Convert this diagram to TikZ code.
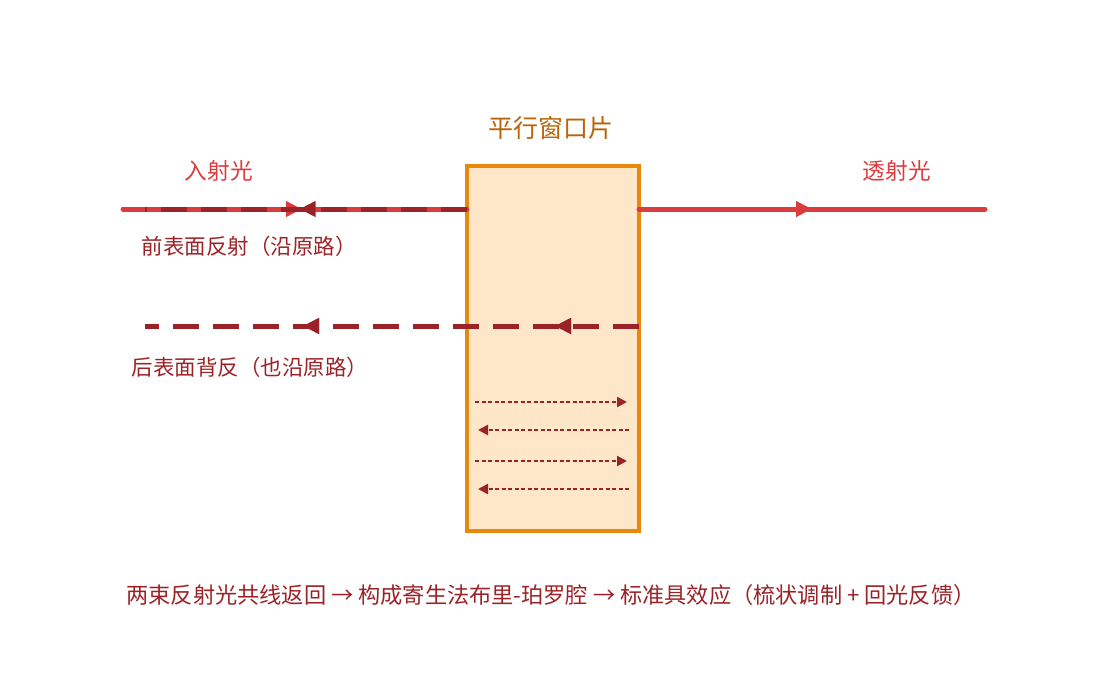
\documentclass[tikz,border=0pt]{standalone}
\usepackage{fontspec}
\newfontfamily\cjk{Noto Sans CJK SC}
\usetikzlibrary{arrows.meta,decorations.markings}
\definecolor{rl}{HTML}{DC3C3E}
\definecolor{dr}{HTML}{9B2226}
\definecolor{og}{HTML}{E8890C}
\definecolor{fl}{HTML}{FDE7C8}
\definecolor{tt}{HTML}{B8650A}
\tikzset{
  mid/.style={postaction=decorate,decoration={markings,mark=at position #1 with {\arrow{Triangle[length=16pt,width=15pt]}}}},
  lbl/.style={font=\cjk\fontsize{21.5}{24}\selectfont},
}
\begin{document}
\begin{tikzpicture}[x=1pt,y=-1pt]
\useasboundingbox (0,0) rectangle (1105,675);
\node[draw=og,line width=3.5pt,fill=fl,minimum width=172pt,minimum height=365pt,inner sep=0] (box) at (553,348.5) {};
\coordinate (a0) at (123,209); \coordinate (a1) at (467,209);
\coordinate (b0) at (145,209);
\coordinate (c0) at (639,326); \coordinate (c1) at (145,326);
\coordinate (t0) at (639,209); \coordinate (t1) at (985,209);
\draw[rl,line width=5pt,line cap=round,mid=0.52] (a0)--(a1);
\draw[dr,line width=5pt,dash pattern=on 26pt off 14pt,mid=0.52] (a1)--(b0);
\draw[dr,line width=5pt,dash pattern=on 26pt off 14pt,mid=0.17,mid=0.68] (c0)--(c1);
\draw[rl,line width=5pt,line cap=round,mid=0.5] (t0)--(t1);
\foreach \y/\d in {402/1,430/-1,461/1,489/-1}{
  \ifnum\d=1
    \draw[dr,line width=2.2pt,dash pattern=on 4pt off 2.5pt,-{Triangle[length=10pt,width=10pt]}] (475,\y)--(627,\y);
  \else
    \draw[dr,line width=2.2pt,dash pattern=on 4pt off 2.5pt,-{Triangle[length=10pt,width=10pt]}] (629,\y)--(478,\y);
  \fi}
\node[text=tt,font=\cjk\fontsize{25}{28}\selectfont] (ti) at (551,128) {平行窗口片};
\node[text=rl,font=\cjk\fontsize{22.7}{26}\selectfont] (in) at (219,171) {入射光};
\node[text=rl,font=\cjk\fontsize{22.7}{26}\selectfont] (tr) at (897,171) {透射光};
\node[lbl,text=dr] (l1) at (249,246) {前表面反射（沿原路）};
\node[lbl,text=dr] (l2) at (250,367) {后表面背反（也沿原路）};
\node[text=dr,font=\cjk\fontsize{22.2}{26}\selectfont] (cap) at (551,595) {两束反射光共线返回 → 构成寄生法布里-珀罗腔 → 标准具效应（梳状调制 + 回光反馈）};
\end{tikzpicture}
\end{document}
